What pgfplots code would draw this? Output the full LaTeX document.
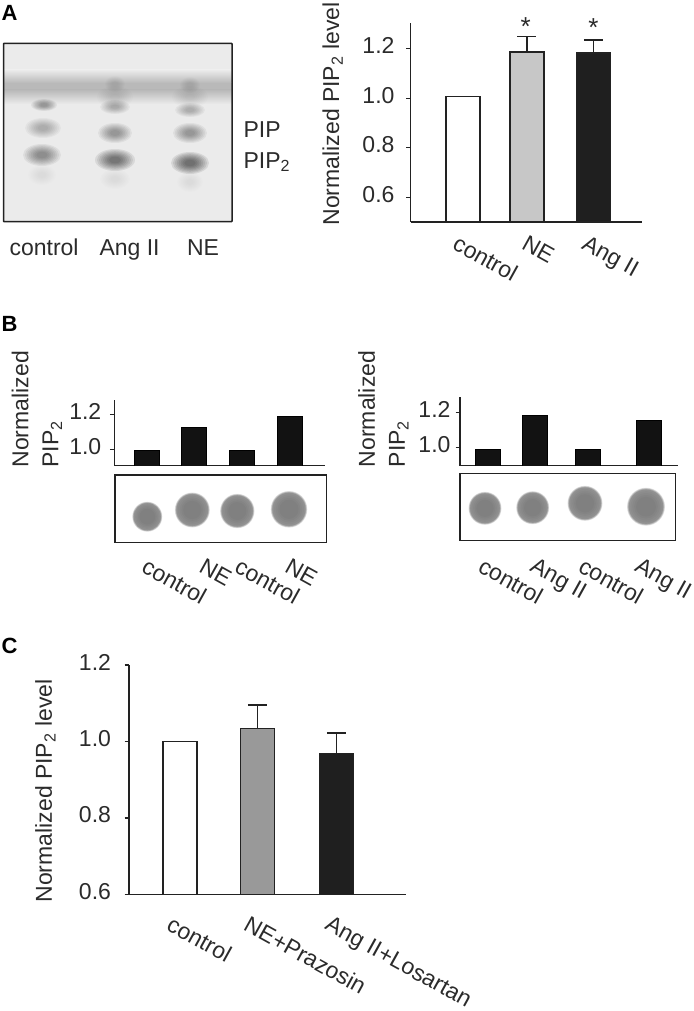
\documentclass[border=0pt]{standalone}
\usepackage{fontspec}
\setmainfont{Liberation Sans}
\usepackage{pgfplots}
\pgfplotsset{compat=1.18}

\definecolor{txt}{HTML}{2B2B2B}
\definecolor{ln}{HTML}{222222}
\definecolor{gelbg}{HTML}{EBEBEB}
\definecolor{gelband}{HTML}{B9B9B9}

\newcommand{\lab}{\fontsize{23}{30}\selectfont}
\newcommand{\subtwo}{\textsubscript{2}}

% blurred blot, built from stacked see-through ellipses
\newcommand{\spot}[5]{\foreach \k in {1.0,0.9,0.8,0.7,0.6,0.5,0.4,0.3}{%
  \fill[black,opacity=#5] (#1pt,-#2pt) ellipse [x radius=\k*#3pt, y radius=\k*#4pt];}}
\newcommand{\blob}[3]{\foreach \k in {1.0,0.98,0.96,0.94,0.92,0.9}{%
  \fill[black,opacity=0.09] (#1pt,-#2pt) ellipse [x radius=\k*#3pt, y radius=\k*#3pt];}%
  \foreach \k in {0.82,0.72,0.62,0.52}{%
  \fill[black,opacity=0.03] (#1pt,-#2pt) ellipse [x radius=\k*#3pt, y radius=\k*#3pt];}}

\pgfplotsset{
  panel/.style={
    scale only axis,
    anchor=south west,
    axis lines=left,
    axis line style={-,draw=ln,line width=1.4pt},
    ytick style={draw=ln,line width=1.4pt},
    x tick style={draw=none},
    tick align=outside,
    major tick length=4.5pt,
    ybar,
    bar shift=0pt,
    clip mode=individual,
    enlargelimits=false,
    tick label style={font=\lab,text=txt},
    yticklabel style={/pgf/number format/assume math mode=true,
      /pgf/number format/fixed,/pgf/number format/fixed zerofill,/pgf/number format/precision=1,
      yshift=3pt},
    xticklabel style={rotate=-29,anchor=north west},
    every axis y label/.style={rotate=90,font=\lab,text=txt,align=left},
  },
  outl/.style={draw=ln,line width=1.5pt,
    error bars/.cd,y dir=plus,y explicit,
    error bar style={draw=ln,line width=1.4pt},
    error mark options={rotate=90,mark size=9.5pt,line width=1.4pt,draw=ln},
    /pgfplots/.cd},
  blk/.style={draw=black,fill=black!93,line width=0.3pt},
}

\begin{document}
\begin{tikzpicture}
\path[use as bounding box] (0pt,0pt) rectangle (693pt,-1011pt);

% ---- A: gel
\fill[gelbg] (3.5pt,-43.5pt) rectangle (232pt,-221.5pt);
\shade[top color=gelbg,bottom color=gelband] (4pt,-70pt) rectangle (231.5pt,-83pt);
\fill[gelband] (4pt,-82.8pt) rectangle (231.5pt,-90.2pt);
\shade[top color=gelband,bottom color=gelbg] (4pt,-90pt) rectangle (231.5pt,-104pt);
\spot{44}{105}{13}{6}{0.05}
\spot{43}{128}{18}{10}{0.035}
\spot{42}{155}{19}{11}{0.06}
\spot{42}{175}{14}{10}{0.006}
\spot{115}{84}{10}{8}{0.012}
\spot{115}{97}{18}{11}{0.012}
\spot{115}{107}{15}{7}{0.035}
\spot{115}{133}{17}{10}{0.05}
\spot{115}{160}{20}{11}{0.08}
\spot{115}{179}{15}{10}{0.006}
\spot{190}{85}{10}{8}{0.012}
\spot{190}{97}{18}{11}{0.012}
\spot{190}{110}{15}{7}{0.035}
\spot{190}{133}{17}{10}{0.05}
\spot{190}{163}{19}{11}{0.085}
\spot{190}{182}{13}{10}{0.006}
\draw[ln,line width=1.5pt,rounded corners=0.5pt] (3.5pt,-43.5pt) rectangle (232pt,-221.5pt);
\node[font=\lab,text=txt,anchor=base west] at (6pt,-255pt) {control};
\node[font=\lab,text=txt,anchor=base west] at (96pt,-255pt) {Ang II};
\node[font=\lab,text=txt,anchor=base west] at (183.5pt,-255pt) {NE};
\node[font=\lab,text=txt,anchor=base west] at (240pt,-138pt) {PIP};
\node[font=\lab,text=txt,anchor=base west] at (240pt,-168pt) {PIP\subtwo};
\node[font=\fontsize{22}{24}\selectfont\bfseries,text=black,anchor=base west] at (-2pt,-21pt) {A};
\node[font=\fontsize{22}{24}\selectfont\bfseries,text=black,anchor=base west] at (-2pt,-331pt) {B};
\node[font=\fontsize{22}{24}\selectfont\bfseries,text=black,anchor=base west] at (-2pt,-653pt) {C};

% ---- A: bars
\begin{axis}[panel,
  at={(410.5pt,-222pt)},width=231.2pt,height=199pt,
  bar width=34pt,
  xmin=-0.81,xmax=2.744,ymin=0.5,ymax=1.304,
  ytick={0.6,0.8,1.0,1.2},
  yticklabel style={xshift=-8pt},
  xtick={0,1.058,1.98},xticklabels={control,NE,Ang II},
  xticklabel style={xshift=-3pt,yshift=-5pt},
  ylabel={Normalized PIP\subtwo{} level},
  every axis y label/.append style={at={(axis description cs:-0.309,-0.035)},anchor=base west},
]
\addplot[fill=white,outl] coordinates {(0,1.008)};
\addplot[fill=black!22,outl] coordinates {(0.98,1.186) +- (0,0.063)};
\addplot[fill=black!88,outl] coordinates {(2,1.183) +- (0,0.053)};
\node[font=\fontsize{26}{26}\selectfont,text=txt] at (axis cs:0.96,1.29) {*};
\node[font=\fontsize{26}{26}\selectfont,text=txt] at (axis cs:2,1.285) {*};
\end{axis}

% ---- B left
\begin{axis}[panel,
  at={(114.3pt,-465.7pt)},width=210.7pt,height=65.7pt,
  bar width=25pt,
  xmin=-0.679,xmax=3.766,ymin=0.906,ymax=1.282,
  ytick={1.0,1.2},
  yticklabel style={xshift=-5pt},
  xtick={0.01,1.213,1.973,3.023},xticklabels={control,NE,control,NE},
  xticklabel style={xshift=40pt,yshift=-72pt},
  ylabel={Normalized\\PIP\subtwo},
  every axis y label/.append style={at={(axis description cs:-0.231,-0.08)},anchor=south west},
]
\addplot[blk] coordinates {(0,0.996)};
\addplot[blk] coordinates {(0.992,1.126)};
\addplot[blk] coordinates {(2,0.996)};
\addplot[blk] coordinates {(3.023,1.19)};
\end{axis}
\draw[ln,line width=1.4pt] (115pt,-475pt) rectangle (326.7pt,-542.7pt);
\blob{147.3}{516.7}{15}
\blob{192.3}{510}{17.5}
\blob{237.3}{511}{17.2}
\blob{289}{509.3}{18.3}

% ---- B right
\begin{axis}[panel,
  at={(460pt,-465.7pt)},width=217.7pt,height=69pt,
  bar width=25pt,
  xmin=-0.507,xmax=3.547,ymin=0.894,ymax=1.292,
  ytick={1.0,1.2},
  yticklabel style={xshift=-1.5pt},
  xtick={-0.047,0.914,1.821,2.864},xticklabels={control,Ang II,control,Ang II},
  xticklabel style={xshift=38.5pt,yshift=-72pt},
  ylabel={Normalized\\PIP\subtwo},
  every axis y label/.append style={at={(axis description cs:-0.22,-0.072)},anchor=south west},
]
\addplot[blk] coordinates {(0,0.988)};
\addplot[blk] coordinates {(0.875,1.188)};
\addplot[blk] coordinates {(1.877,0.988)};
\addplot[blk] coordinates {(3,1.157)};
\end{axis}
\draw[ln,line width=1.4pt] (460pt,-473.3pt) rectangle (675.7pt,-540.7pt);
\blob{485}{508.3}{16.5}
\blob{532.7}{507.7}{16.5}
\blob{585}{503.3}{17.5}
\blob{646}{506.7}{19}

% ---- C
\begin{axis}[panel,
  at={(129pt,-894.3pt)},width=277pt,height=229.3pt,
  bar width=34pt,
  xmin=-0.653,xmax=2.892,ymin=0.6,ymax=1.2,
  ytick={0.6,0.8,1.0,1.2},
  yticklabel style={xshift=-10pt},
  xtick={-0.064,0.921,1.958},xticklabels={control,NE+Prazosin,Ang II+Losartan},
  xticklabel style={xshift=3pt,yshift=-11.5pt},
  ylabel={Normalized PIP\subtwo{} level},
  every axis y label/.append style={at={(axis description cs:-0.278,-0.051)},anchor=base west},
]
\addplot[fill=white,outl] coordinates {(0,1.0)};
\addplot[fill=black!40,outl] coordinates {(0.989,1.034) +- (0,0.061)};
\addplot[fill=black!88,outl] coordinates {(2,0.969) +- (0,0.053)};
\end{axis}
\end{tikzpicture}
\end{document}
